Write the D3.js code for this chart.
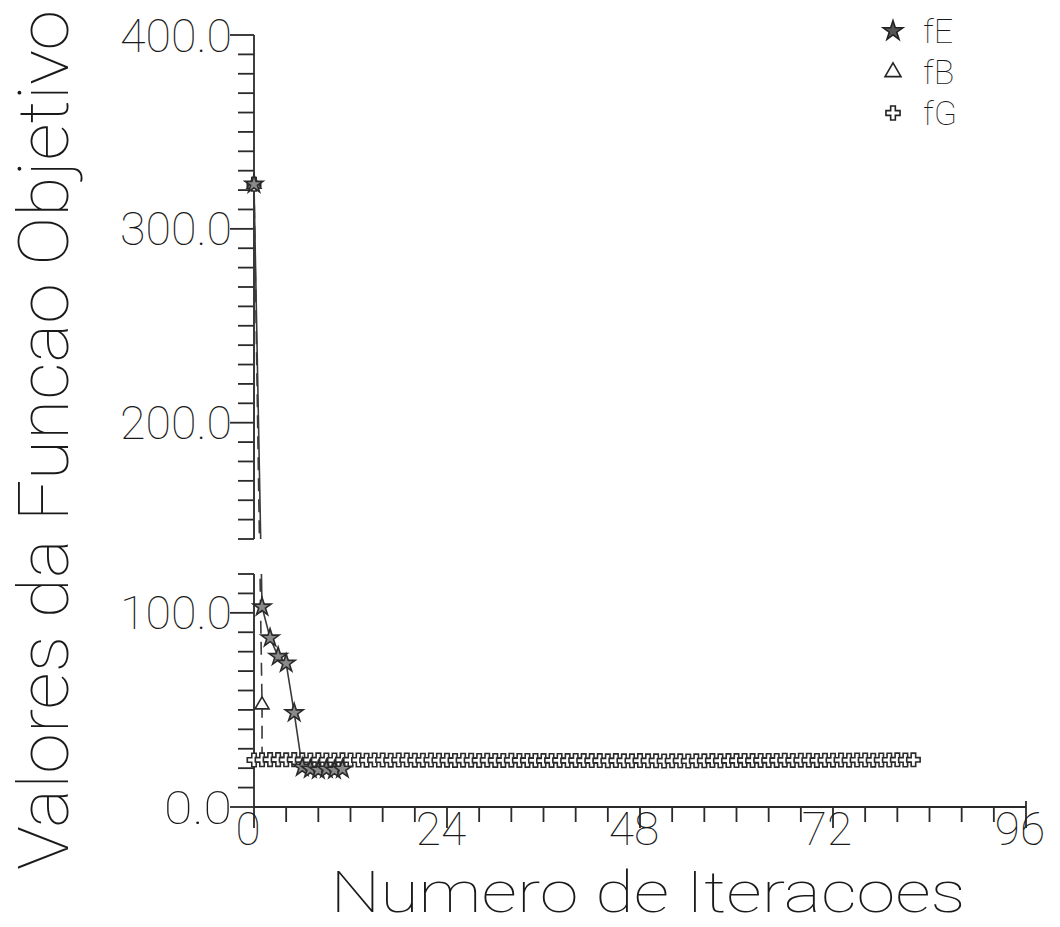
<!DOCTYPE html>
<html>
<head>
<meta charset="utf-8">
<script src="https://cdn.jsdelivr.net/npm/d3@7"></script>
<style>
  html, body { margin: 0; padding: 0; background: #fff; }
  svg text { font-family: "Roboto", "DejaVu Sans", sans-serif; font-weight: 100; fill: #1a1a1a; }
</style>
</head>
<body>
<div id="chart"></div>
<script>
// iterations / objective function values
const fEIter = [0, 1, 2, 3, 4, 5, 6, 7, 8, 9, 10, 11];
const fE = [323, 103, 87, 77.5, 74, 48.5, 20.5, 19.5, 19, 19.5, 19, 19.5];

const fBIter = [0, 1, 1];
const fB = [323, 52.6, 26];

const fGIter = [0, 0, 1, 2, 3, 4, 5, 6, 7, 8, 9, 10, 11, 12, 13, 14, 15, 16, 17, 18, 19, 20,
  21, 22, 23, 24, 25, 26, 27, 28, 29, 30, 31, 32, 33, 34, 35, 36, 37, 38, 39, 40, 41, 42, 43,
  44, 45, 46, 47, 48, 49, 50, 51, 52, 53, 54, 55, 56, 57, 58, 59, 60, 61, 62, 63, 64, 65, 66,
  67, 68, 69, 70, 71, 72, 73, 74, 75, 76, 77, 78, 79, 80, 81, 82];
const fG = [323, 24.2, 24.3, 24.4, 24.4, 24.3, 24.4, 24.3, 24.2, 24.3, 24.2, 24.2, 24.3, 24.2,
  24.2, 24.1, 24.2, 24.2, 24.1, 24.2, 24.2, 24.1, 24.1, 24.2, 24.1, 24.1, 24.0, 24.1, 24.1,
  24.0, 24.1, 24.0, 24.0, 24.1, 24.0, 24.0, 24.0, 23.9, 24.0, 24.0, 23.9, 24.0, 23.9, 23.9,
  23.9, 23.8, 23.9, 23.8, 23.8, 23.9, 23.8, 23.8, 23.7, 23.8, 23.8, 23.7, 23.8, 23.8, 23.9,
  23.8, 23.9, 23.9, 24.0, 23.9, 24.0, 24.0, 24.0, 24.1, 24.0, 24.1, 24.1, 24.0, 24.1, 24.1,
  24.2, 24.1, 24.2, 24.2, 24.1, 24.2, 24.2, 24.3, 24.2, 24.3];

const xMajor = [0, 24, 48, 72, 96];
const yMajor = [0, 100, 200, 300, 400];
const legendNames = ["fE", "fB", "fG"];

const width = 1060, height = 927;
const ink = "#2a2a2a";

const svg = d3.select("#chart").append("svg")
  .attr("width", width)
  .attr("height", height);

// broken y axis: two pieces with the same units per pixel
const x = d3.scaleLinear([0, 96], [254, 1026]);
const yUp = d3.scaleLinear([140, 400], [539, 35]);
const yLow = d3.scaleLinear([0, 120], [807, 574]);
const yFor = v => v >= 130 ? yUp : yLow;

const defs = svg.append("defs");
defs.append("clipPath").attr("id", "clipUp")
  .append("rect").attr("x", x(0) - 2).attr("y", yUp(400) - 20)
  .attr("width", width).attr("height", yUp(140) - yUp(400) + 20);
defs.append("clipPath").attr("id", "clipLow")
  .append("rect").attr("x", x(0) - 2).attr("y", yLow(120))
  .attr("width", width).attr("height", yLow(0) - yLow(120) + 10);

// axes
const gAxes = svg.append("g").attr("stroke", ink).attr("stroke-width", 1.8).attr("fill", "none");

function yPiece(scale, lo, hi) {
  gAxes.append("line")
    .attr("x1", x(0)).attr("x2", x(0))
    .attr("y1", scale(hi)).attr("y2", scale(lo));
  gAxes.selectAll(null)
    .data(d3.range(lo, hi + 1, 10))
    .join("line")
    .attr("x1", d => yMajor.includes(d) ? x(0) - 24 : x(0) - 16)
    .attr("x2", x(0))
    .attr("y1", d => scale(d)).attr("y2", d => scale(d));
}
yPiece(yUp, 140, 400);
yPiece(yLow, 0, 120);

gAxes.append("line")
  .attr("x1", x(0)).attr("x2", x(96))
  .attr("y1", yLow(0)).attr("y2", yLow(0));
gAxes.selectAll(null)
  .data(d3.range(0, 97, 4))
  .join("line")
  .attr("x1", d => x(d)).attr("x2", d => x(d))
  .attr("y1", d => d === 96 ? yLow(0) - 6 : yLow(0))
  .attr("y2", d => xMajor.includes(d) ? yLow(0) + 21 : yLow(0) + 15);

// tick labels
svg.selectAll(".ylab")
  .data(yMajor)
  .join("text")
  .attr("class", "ylab")
  .attr("x", 232)
  .attr("y", d => yFor(d)(d))
  .attr("dy", "0.36em")
  .attr("text-anchor", "end")
  .attr("textLength", d => d === 0 ? 68 : 112)
  .attr("lengthAdjust", "spacingAndGlyphs")
  .style("font-size", "46px")
  .text(d => d3.format(".1f")(d));

svg.selectAll(".xlab")
  .data(xMajor)
  .join("text")
  .attr("class", "xlab")
  .attr("x", d => x(d) - 6)
  .attr("y", 845)
  .attr("text-anchor", "middle")
  .style("font-size", "46px")
  .text(d => d);

// axis titles
svg.append("text")
  .attr("x", 648).attr("y", 912)
  .attr("text-anchor", "middle")
  .attr("textLength", 635)
  .attr("lengthAdjust", "spacingAndGlyphs")
  .style("font-size", "58px")
  .text("Numero de Iteracoes");

svg.append("text")
  .attr("transform", "translate(68,440) rotate(-90)")
  .attr("text-anchor", "middle")
  .attr("textLength", 860)
  .attr("lengthAdjust", "spacingAndGlyphs")
  .style("font-size", "70px")
  .text("Valores da Funcao Objetivo");

// series
const series = [
  { name: "fE", iter: fEIter, vals: fE, dash: null, symbol: d3.symbolStar, size: 100, fill: "#8a8a8a" },
  { name: "fB", iter: fBIter, vals: fB, dash: "13,8", symbol: d3.symbolTriangle, size: 85, fill: "#fff" },
  { name: "fG", iter: fGIter, vals: fG, dash: null, symbol: d3.symbolCross, size: 100, fill: "#fff" }
];

const plot = svg.append("g");

series.forEach(s => {
  const pts = s.iter.map((it, i) => ({ it, v: s.vals[i] }));
  [["clipUp", yUp], ["clipLow", yLow]].forEach(([clip, scale]) => {
    plot.append("path")
      .datum(pts)
      .attr("clip-path", `url(#${clip})`)
      .attr("fill", "none")
      .attr("stroke", "#3a3a3a")
      .attr("stroke-width", 1.6)
      .attr("stroke-dasharray", s.dash)
      .attr("d", d3.line().x(d => x(d.it)).y(d => scale(d.v)));
  });
});

// markers on top of lines (fG first so stars sit above)
[series[2], series[1], series[0]].forEach(s => {
  const pts = s.iter.map((it, i) => ({ it, v: s.vals[i] }))
    .filter((d, i) => !(s.name === "fB" && i === 2));
  plot.selectAll(null)
    .data(pts)
    .join("path")
    .attr("transform", d => `translate(${x(d.it)},${yFor(d.v)(d.v)})`)
    .attr("d", d3.symbol(s.symbol, s.size))
    .attr("fill", s.fill)
    .attr("stroke", "#2a2a2a")
    .attr("stroke-width", 1.6);
});

// legend
const legend = svg.append("g");
legendNames.forEach((name, i) => {
  const s = series.find(d => d.name === name);
  const cy = 31 + i * 41;
  legend.append("path")
    .attr("transform", `translate(893,${cy})`)
    .attr("d", d3.symbol(s.symbol, s.name === "fE" ? 120 : 110))
    .attr("fill", s.name === "fE" ? "#555" : "#fff")
    .attr("stroke", "#222")
    .attr("stroke-width", 1.6);
  legend.append("text")
    .attr("x", 923)
    .attr("y", cy + 12)
    .style("font-size", "34px")
    .text(name);
});
</script>
</body>
</html>
